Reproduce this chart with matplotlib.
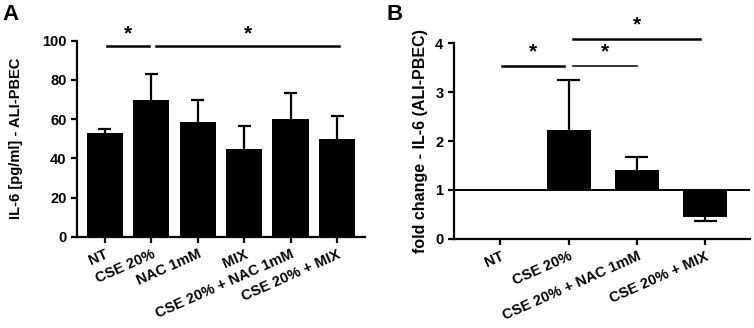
import matplotlib
matplotlib.use("Agg")
import matplotlib.pyplot as plt

plt.rcParams["font.family"] = ["Liberation Sans", "DejaVu Sans"]
plt.rcParams["font.weight"] = "bold"

# panel A
a_labels = ["NT", "CSE 20%", "NAC 1mM", "MIX", "CSE 20% + NAC 1mM", "CSE 20% + MIX"]
a_values = [53, 69.5, 58.5, 45, 60, 50]
a_err = [2, 13.5, 11.5, 11.5, 13.5, 11.5]

# panel B (fold change, baseline 1)
b_labels = ["NT", "CSE 20%", "CSE 20% + NAC 1mM", "CSE 20% + MIX"]
b_values = [1.0, 2.22, 1.40, 0.45]
b_err = [0.0, 1.03, 0.28, 0.09]


def style_axes(ax):
    for s in ["top", "right"]:
        ax.spines[s].set_visible(False)
    for s in ["left", "bottom"]:
        ax.spines[s].set_linewidth(1.6)
    ax.tick_params(width=1.6, length=4, labelsize=10.5)
    for lab in ax.get_yticklabels():
        lab.set_fontweight("bold")


def err_bars(ax, xs, vals, errs, half=0.14):
    # one-sided error bars, drawn behind the bars
    ends = [v + e for v, e in zip(vals, errs)]
    ax.vlines(xs, vals, ends, color="black", lw=1.6, zorder=1)
    ax.hlines(ends, [xi - half for xi in xs], [xi + half for xi in xs],
              color="black", lw=1.6, zorder=1)


def sig(ax, x0, x1, y, ystar, lw=1.8):
    ax.plot([x0, x1], [y, y], color="black", lw=lw, clip_on=False)
    ax.text((x0 + x1) / 2, ystar, "*", ha="center", va="center",
            fontsize=15, fontweight="bold", clip_on=False)


fig = plt.figure(figsize=(7.54, 3.28), dpi=100)

# ---- A ----
ax = fig.add_axes([0.102, 0.278, 0.382, 0.598])
x = list(range(len(a_labels)))
ax.bar(x, a_values, width=0.78, color="black", zorder=2)
err_bars(ax, x, a_values, a_err)
ax.set_xlim(-0.6, 5.6)
ax.set_ylim(0, 100)
ax.set_yticks([0, 20, 40, 60, 80, 100])
ax.set_xticks(x)
ax.set_xticklabels(a_labels, rotation=24, ha="right", rotation_mode="anchor",
                   fontweight="bold")
ax.set_ylabel("IL-6 [pg/ml] - ALI-PBEC", fontsize=10.5, fontweight="bold",
              labelpad=14)
style_axes(ax)
sig(ax, 0.05, 0.95, 97.3, 103.5)
sig(ax, 1.1, 5.05, 97.3, 103.5)
fig.text(0.003, 0.955, "A", fontsize=16, fontweight="bold", va="center")

# ---- B ----
ax = fig.add_axes([0.602, 0.272, 0.393, 0.596])
x = list(range(len(b_labels)))
heights = [v - 1 for v in b_values]
ax.bar(x, heights, bottom=1, width=0.645, color="black", zorder=2)
signed_err = [e if v >= 1 else -e for v, e in zip(b_values, b_err)]
err_bars(ax, x[1:], b_values[1:], signed_err[1:], half=0.17)
ax.axhline(1, color="black", lw=1.4, zorder=3)
ax.set_xlim(-0.68, 3.66)
ax.set_ylim(0, 4)
ax.set_yticks([0, 1, 2, 3, 4])
ax.set_xticks(x)
ax.set_xticklabels(b_labels, rotation=24, ha="right", rotation_mode="anchor",
                   fontweight="bold")
ax.set_ylabel("fold change - IL-6 (ALI-PBEC)", fontsize=11.5, fontweight="bold",
              labelpad=5)
style_axes(ax)
sig(ax, 0.02, 0.93, 3.545, 3.82)
sig(ax, 1.07, 2.0, 3.545, 3.82, lw=1.1)
sig(ax, 1.07, 2.93, 4.09, 4.37)
fig.text(0.512, 0.955, "B", fontsize=16, fontweight="bold", va="center")

fig.savefig("out.png", dpi=100)
